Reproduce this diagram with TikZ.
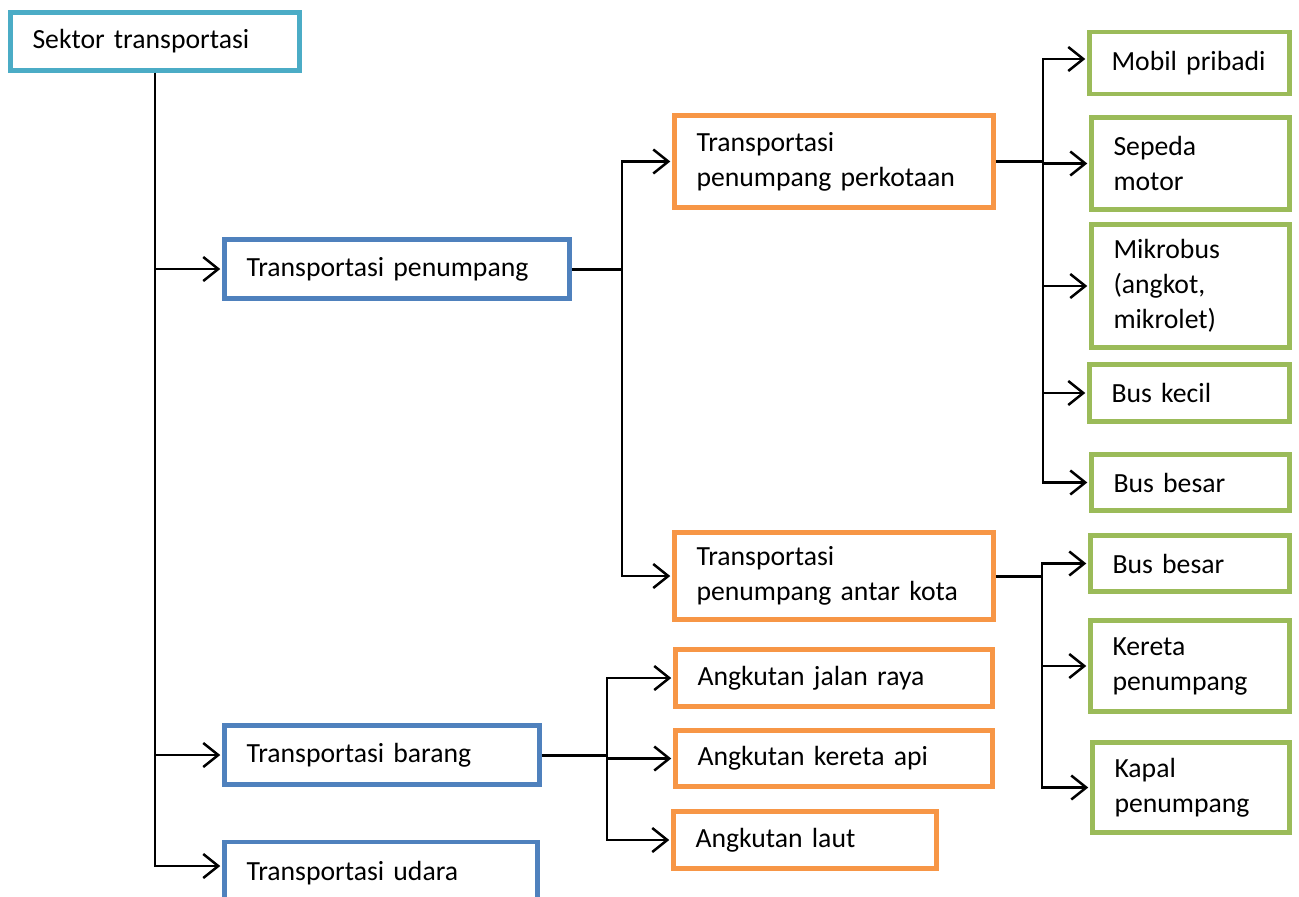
\documentclass[tikz,border=0pt]{standalone}
\usepackage{fontspec}
\setmainfont{Carlito}
\usetikzlibrary{arrows.meta}
\definecolor{cteal}{HTML}{4BACC6}
\definecolor{cblue}{HTML}{4F81BD}
\definecolor{corange}{HTML}{F79646}
\definecolor{cgreen}{HTML}{9BBB59}
\newcommand{\bxfont}{\fontsize{27.7}{35}\selectfont\hyphenpenalty=10000\relax}
\begin{document}
\begin{tikzpicture}[x=1pt,y=-1pt,
  box/.style={draw=#1, line width=4.5pt, fill=white, inner xsep=22pt, inner ysep=0pt,
    align=left, font=\bxfont},
  conn/.style={line width=2.5pt, black},
  stub/.style={line width=3pt, black},
  arr/.style={conn, -{Straight Barb[length=15pt,width=24pt]}, shorten >=2pt}]
\useasboundingbox (0,0) rectangle (1299,897);
\clip (0,0) rectangle (1299,897);

% level 0
\node[box=cteal, minimum height=58pt, text width=245pt] (sektor) at (155,41.5) {Sektor transportasi};
% level 1
\node[box=cblue, minimum height=59pt, text width=301pt] (tpen) at (397,269) {Transportasi penumpang};
\node[box=cblue, minimum height=59pt, text width=271pt] (tbarang) at (382,755) {Transportasi barang};
\node[box=cblue, minimum height=66pt, text width=269pt] (tudara) at (381,875) {\raisebox{8pt}{Transportasi udara}};
% level 2
\node[box=corange, minimum height=92pt, text width=275pt] (tperk) at (834,161.5) {Transportasi\\penumpang perkotaan};
\node[box=corange, minimum height=87pt, text width=275pt] (tantar) at (834,576) {Transportasi\\penumpang antar kota};
\node[box=corange, minimum height=57pt, text width=273pt] (jalan) at (834,678) {Angkutan jalan raya};
\node[box=corange, minimum height=56pt, text width=273pt] (kapi) at (834,758.5) {Angkutan kereta api};
\node[box=corange, minimum height=57pt, text width=219pt] (laut) at (805,840) {Angkutan laut};
% level 3
\node[box=cgreen, minimum height=62pt, text width=156pt] (mobil) at (1189.5,63) {\raisebox{3pt}{\mbox{Mobil pribadi}}};
\node[box=cgreen, minimum height=92pt, text width=154pt] (sepeda) at (1190.5,163.5) {Sepeda\\motor};
\node[box=cgreen, minimum height=123pt, text width=154pt] (mikro) at (1190.5,286) {Mikrobus\\(angkot,\\mikrolet)};
\node[box=cgreen, minimum height=57pt, text width=156pt] (buskecil) at (1189.5,393) {Bus kecil};
\node[box=cgreen, minimum height=56pt, text width=154pt] (busbesar) at (1190.5,482.5) {Bus besar};
\node[box=cgreen, minimum height=56pt, text width=155pt] (busbesarb) at (1190,563.5) {Bus besar};
\node[box=cgreen, minimum height=91pt, text width=155pt] (kereta) at (1190,666) {Kereta\\penumpang};
\node[box=cgreen, minimum height=90pt, text width=153pt] (kapal) at (1191,787.5) {Kapal\\penumpang};

% junctions
\coordinate (ja) at (622,269);
\coordinate (jb) at (1043,161.5);
\coordinate (jc) at (1042,576);
\coordinate (jd) at (607,755);
\coordinate (ua) at ([yshift=9pt]tudara.west);
\coordinate (ma) at ([yshift=4pt]mobil.west);

% connectors from Sektor transportasi
\draw[arr] (sektor.south) |- (tpen.west);
\draw[arr] (sektor.south) |- (tbarang.west);
\draw[arr] (sektor.south) |- (ua);

% Transportasi penumpang
\draw[stub] (tpen.east) -- (ja);
\draw[arr] (ja) |- (tperk.west);
\draw[arr] (ja) |- (tantar.west);

% perkotaan
\draw[stub] (tperk.east) -- (jb);
\draw[arr] (jb) |- (ma);
\draw[arr] (jb) |- (sepeda.west);
\draw[arr] (jb) |- (mikro.west);
\draw[arr] (jb) |- (buskecil.west);
\draw[arr] (jb) |- (busbesar.west);

% antar kota
\draw[stub] (tantar.east) -- (jc);
\draw[arr] (jc) |- (busbesarb.west);
\draw[arr] (jc) |- (kereta.west);
\draw[arr] (jc) |- (kapal.west);

% barang
\draw[stub] (tbarang.east) -- (jd);
\draw[arr] (jd) |- (jalan.west);
\draw[arr] (jd) |- (kapi.west);
\draw[arr] (jd) |- (laut.west);
\end{tikzpicture}
\end{document}
